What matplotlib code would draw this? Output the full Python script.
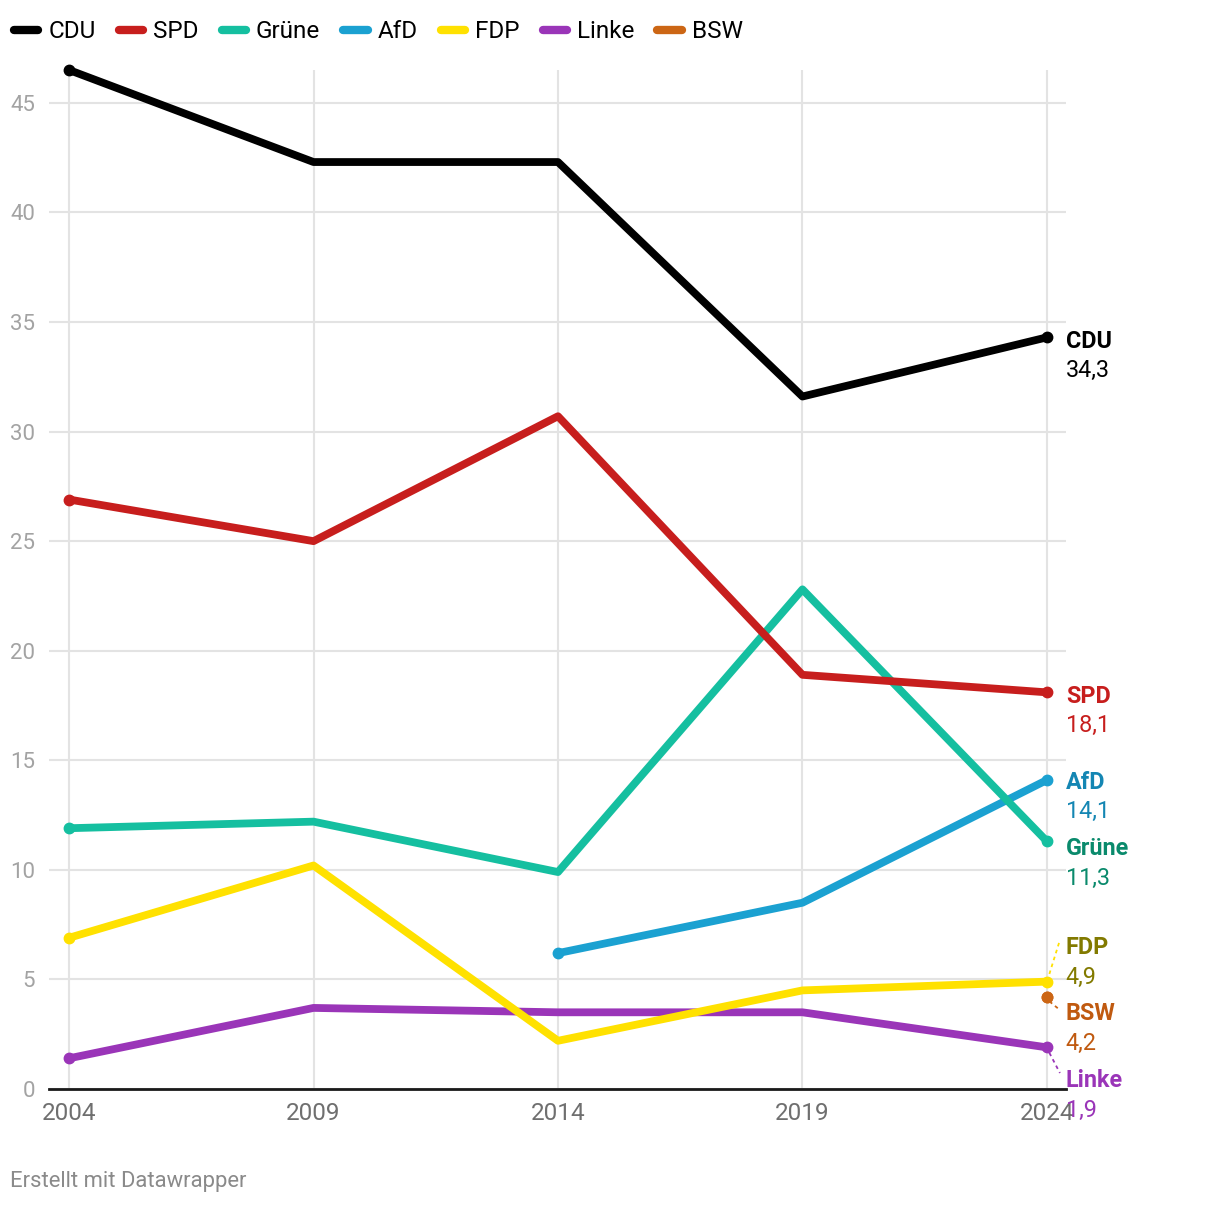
import numpy as np
import matplotlib.pyplot as plt
from matplotlib.lines import Line2D

plt.rcParams['font.family'] = ['Roboto', 'DejaVu Sans']

years = [2004, 2009, 2014, 2019, 2024]
parties = ['CDU', 'SPD', 'Grüne', 'AfD', 'FDP', 'Linke', 'BSW']
cdu = [46.5, 42.3, 42.3, 31.6, 34.3]
spd = [26.9, 25.0, 30.7, 18.9, 18.1]
gruene = [11.9, 12.2, 9.9, 22.8, 11.3]
afd = [np.nan, np.nan, 6.2, 8.5, 14.1]
fdp = [6.9, 10.2, 2.2, 4.5, 4.9]
linke = [1.4, 3.7, 3.5, 3.5, 1.9]
bsw = [np.nan, np.nan, np.nan, np.nan, 4.2]
values = [cdu, spd, gruene, afd, fdp, linke, bsw]
value_labels = ['34,3', '18,1', '11,3', '14,1', '4,9', '1,9', '4,2']

colors = ['#000000', '#c71e1d', '#15bfa0', '#1ba1d1', '#ffe100', '#9a35b8', '#cc6615']
text_colors = ['#000000', '#c71e1d', '#0a8a6c', '#1486b3', '#827a00', '#9a35b8', '#c05a10']

fig = plt.figure(figsize=(12.2, 12.06), dpi=100)
W, H = 1220, 1206
ax = fig.add_axes([49 / W, 1 - 1089 / H, (1066 - 49) / W, (1089 - 70) / H])

ax.set_xlim(2003.59, 2024.39)
ax.set_ylim(0, 46.5)

# draw order: bottom ones first, CDU on top
order = [6, 5, 4, 3, 2, 1, 0]
for i in order:
    y = np.array(values[i], dtype=float)
    ax.plot(years, y, color=colors[i], lw=5.6, solid_capstyle='round',
            solid_joinstyle='round', zorder=3 + (7 - i) * 0.1, clip_on=False)
    ok = np.where(~np.isnan(y))[0]
    pts = [ok[0], ok[-1]]
    ax.plot([years[j] for j in pts], [y[j] for j in pts], 'o', color=colors[i],
            ms=7.5, zorder=3 + (7 - i) * 0.1, clip_on=False)

ax.set_yticks(range(0, 46, 5))
ax.set_xticks(years)
ax.grid(True, color='#e3e3e3', lw=1.5)
ax.set_axisbelow(True)
for s in ['top', 'right', 'left']:
    ax.spines[s].set_visible(False)
ax.spines['bottom'].set_color('#1a1a1a')
ax.spines['bottom'].set_linewidth(2)
ax.spines['bottom'].set_zorder(2)
ax.tick_params(axis='both', length=0)
ax.tick_params(axis='y', labelsize=16, labelcolor='#a3a3a3', pad=10)
ax.tick_params(axis='x', labelsize=17.5, labelcolor='#6f6f6f', pad=9)

# direct labels on the right (name y position in data units)
ppu = (1089 - 103) / 45.0
name_px = {'CDU': 342, 'SPD': 697, 'Grüne': 849, 'AfD': 783,
           'FDP': 948, 'Linke': 1081, 'BSW': 1014}
lx = 2024 + (1066 - 1047) / 48.9
for i, p in enumerate(parties):
    ny = (1089 - name_px[p]) / ppu
    vy = ny - 29 / ppu
    ax.text(lx, ny, p, color=text_colors[i], fontsize=16.8, fontweight='bold',
            va='center', ha='left', clip_on=False)
    ax.text(lx, vy, value_labels[i], color=text_colors[i], fontsize=16.8,
            va='center', ha='left', clip_on=False)

# dotted connectors for the crowded labels
lead = {'FDP': (4, 940, 0.35), 'BSW': (6, 1010, -0.2), 'Linke': (5, 1073, -0.25)}
for p, (i, py, dy) in lead.items():
    y0 = values[i][-1]
    ax.plot([2024.05, 2024 + 13 / 48.9], [y0 + dy, (1089 - py) / ppu],
            color=colors[i], lw=1.3, ls=(0, (2, 2)), clip_on=False, zorder=2)

handles = [Line2D([0], [0], color=c, lw=6, solid_capstyle='round') for c in colors]
fig.legend(handles, parties, loc='center left', bbox_to_anchor=(14 / W, 1 - 32 / H),
           ncol=7, frameon=False, fontsize=17.5, handlelength=1.0,
           handletextpad=0.41, columnspacing=0.95, borderpad=0, borderaxespad=0)

fig.text(10 / W, 1 - 1182 / H, 'Erstellt mit Datawrapper', color='#8a8a8a',
         fontsize=15.8, va='center', ha='left')

fig.savefig('out.png', dpi=100)
